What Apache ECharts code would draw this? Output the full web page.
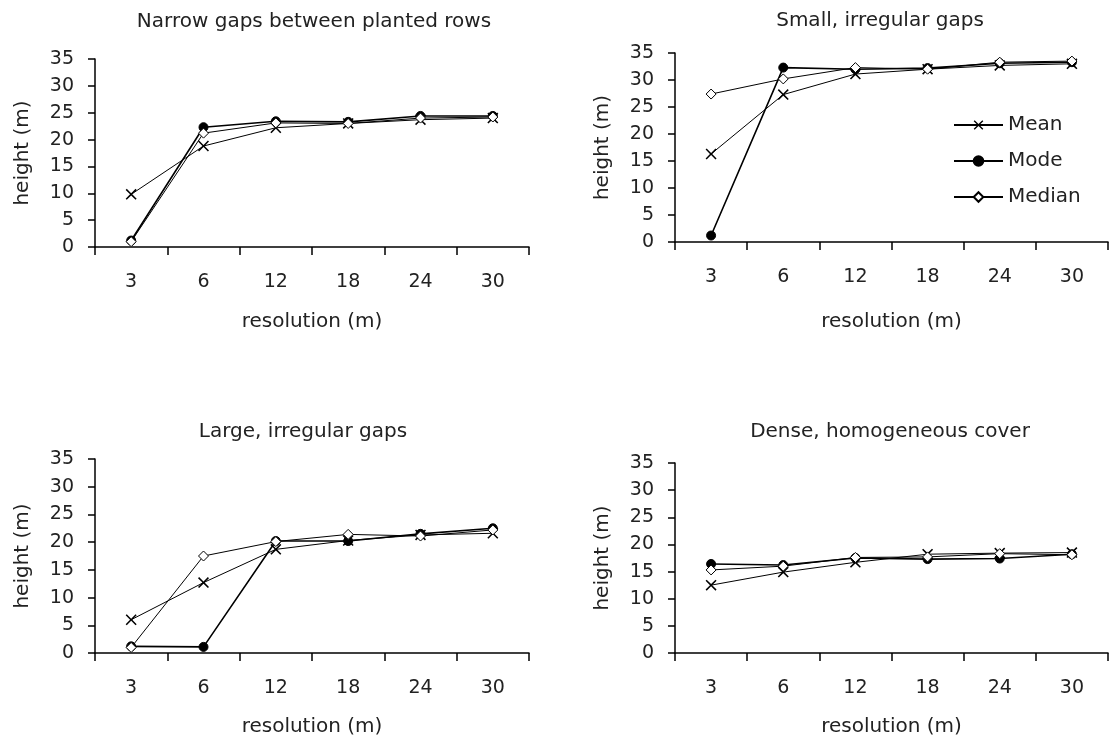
<!DOCTYPE html>
<html>
<head>
<meta charset="utf-8">
<script src="https://cdn.jsdelivr.net/npm/echarts@6/dist/echarts.min.js"></script>
<style>
html,body{margin:0;padding:0;background:#fff;}
#chart{width:1109px;height:742px;}
</style>
</head>
<body>
<div id="chart"></div>
<script>
// ---- data ----
const categories = ['3', '6', '12', '18', '24', '30'];
const yTicks = [0, 5, 10, 15, 20, 25, 30, 35];
const seriesNames = ['Mean', 'Mode', 'Median'];
const panelTitles = ['Narrow gaps between planted rows', 'Small, irregular gaps', 'Large, irregular gaps', 'Dense, homogeneous cover'];

const narrowMean   = [9.8, 18.8, 22.2, 23.0, 23.7, 24.0];
const narrowMode   = [1.2, 22.3, 23.4, 23.3, 24.4, 24.4];
const narrowMedian = [1.0, 21.2, 23.1, 23.0, 24.0, 24.2];

const smallMean   = [16.3, 27.3, 31.1, 32.0, 32.7, 33.0];
const smallMode   = [1.2, 32.3, 32.0, 32.2, 33.1, 33.3];
const smallMedian = [27.4, 30.2, 32.3, 32.0, 33.3, 33.5];

const largeMean   = [6.0, 12.7, 18.7, 20.3, 21.3, 21.6];
const largeMode   = [1.2, 1.1, 20.2, 20.2, 21.5, 22.5];
const largeMedian = [1.0, 17.5, 20.1, 21.4, 21.1, 22.2];

const denseMean   = [12.5, 14.9, 16.7, 18.2, 18.4, 18.5];
const denseMode   = [16.4, 16.2, 17.5, 17.3, 17.4, 18.2];
const denseMedian = [15.3, 16.0, 17.6, 17.7, 18.3, 18.1];

const panelData = [
  [narrowMean, narrowMode, narrowMedian],
  [smallMean, smallMode, smallMedian],
  [largeMean, largeMode, largeMedian],
  [denseMean, denseMode, denseMedian]
];

// ---- layout / style ----
const FONT = 'DejaVu Sans';
const TXT = '#222';
const grids = [
  {left: 95, top: 59, width: 434, height: 188},
  {left: 675, top: 53, width: 433, height: 189},
  {left: 95, top: 459, width: 434, height: 194},
  {left: 675, top: 463, width: 433, height: 190}
];
const titlePos = [[314, 22], [880, 21], [303, 432], [890, 432]];
const xNameGap = [65, 70, 64, 64];

const crossPath = 'path://M0,1L1,0L5,4L9,0L10,1L6,5L10,9L9,10L5,6L1,10L0,9L4,5Z';
const symbolDefs = [
  {symbol: crossPath, symbolSize: 11, itemStyle: {color: '#000'}, lineWidth: 1},
  {symbol: 'circle', symbolSize: 9, itemStyle: {color: '#000', borderColor: '#000', borderWidth: 1}, lineWidth: 1.6},
  {symbol: 'diamond', symbolSize: 10, itemStyle: {color: '#fff', borderColor: '#000', borderWidth: 1}, lineWidth: 1}
];

const xAxes = [], yAxes = [], series = [], graphics = [];
grids.forEach((g, i) => {
  xAxes.push({
    type: 'category', gridIndex: i, data: categories, boundaryGap: true,
    name: 'resolution (m)', nameLocation: 'middle', nameGap: xNameGap[i],
    nameTextStyle: {fontFamily: FONT, fontSize: 20, color: TXT},
    axisLine: {lineStyle: {color: '#000', width: 1.5}},
    axisTick: {show: true, inside: false, length: 8, interval: 0, alignWithLabel: false, lineStyle: {color: '#000', width: 1.5}},
    axisLabel: {interval: 0, margin: 26, fontFamily: FONT, fontSize: 19, color: TXT},
    splitLine: {show: false}
  });
  yAxes.push({
    type: 'value', gridIndex: i, min: yTicks[0], max: yTicks[yTicks.length - 1], interval: 5,
    name: 'height (m)', nameLocation: 'middle', nameGap: 62, nameRotate: 90,
    nameTextStyle: {fontFamily: FONT, fontSize: 20, color: TXT},
    axisLine: {show: true, lineStyle: {color: '#000', width: 1.5}},
    axisTick: {show: true, length: 7, lineStyle: {color: '#000', width: 1.5}},
    axisLabel: {margin: 21, fontFamily: FONT, fontSize: 19, color: TXT},
    splitLine: {show: false}
  });
  seriesNames.forEach((nm, k) => {
    const d = symbolDefs[k];
    series.push({
      type: 'line', name: nm, xAxisIndex: i, yAxisIndex: i,
      data: panelData[i][k],
      symbol: d.symbol, symbolSize: d.symbolSize, showAllSymbol: true,
      itemStyle: d.itemStyle,
      lineStyle: {color: '#000', width: d.lineWidth},
      z: 2 + k
    });
  });
  graphics.push({
    type: 'text', x: titlePos[i][0], y: titlePos[i][1],
    style: {text: panelTitles[i], font: '20px "' + FONT + '"', fill: TXT, textAlign: 'center', textVerticalAlign: 'middle'}
  });
});

const chart = echarts.init(document.getElementById('chart'), null, {renderer: 'canvas'});
chart.setOption({
  animation: false,
  backgroundColor: '#fff',
  grid: grids,
  xAxis: xAxes,
  yAxis: yAxes,
  series: series,
  graphic: graphics,
  legend: {
    orient: 'vertical', left: 948, top: 109,
    data: seriesNames,
    itemWidth: 49, itemHeight: 12, itemGap: 14,
    textStyle: {fontFamily: FONT, fontSize: 20, color: TXT, lineHeight: 22}
  }
});
</script>
</body>
</html>
